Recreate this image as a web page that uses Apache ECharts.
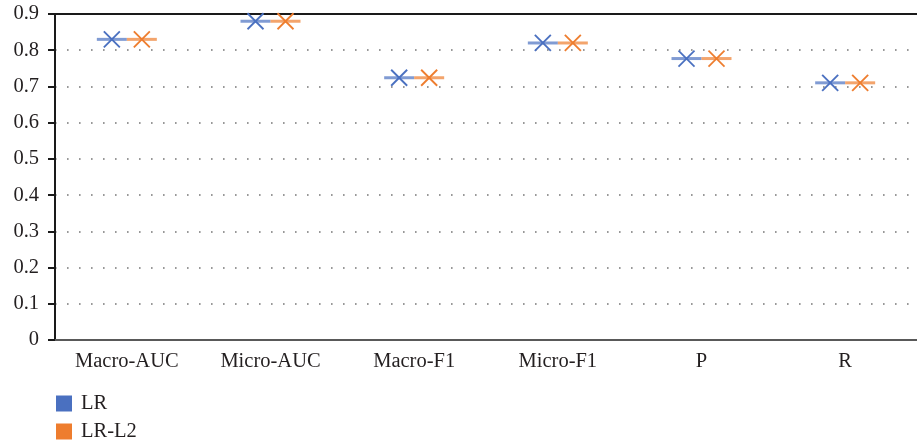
<!DOCTYPE html>
<html>
<head>
<meta charset="utf-8">
<style>
  html, body { margin: 0; padding: 0; background: #fff; }
  #chart { width: 917px; height: 445px; }
</style>
<script src="https://cdn.jsdelivr.net/npm/echarts@6/dist/echarts.min.js"></script>
</head>
<body>
<div id="chart"></div>
<script>
// Metric names along the x axis
const categories = ['Macro-AUC', 'Micro-AUC', 'Macro-F1', 'Micro-F1', 'P', 'R'];
// Scores of the two models
const lrValues = [0.830, 0.880, 0.724, 0.820, 0.777, 0.710];
const lrL2Values = [0.830, 0.880, 0.724, 0.820, 0.777, 0.710];
// Y axis range and step
const yMin = 0;
const yMax = 0.9;
const yStep = 0.1;

const seriesNames = ['LR', 'LR-L2'];
const seriesColors = ['#4A70C0', '#EE7D2E'];
const fontFamily = '"Liberation Serif", "Times New Roman", serif';
const textColor = '#231f20';
const fontSize = 20.5;

// Each point: a short horizontal dash with an X marker on it,
// shifted left (first series) or right (second series) of the category centre.
function makeRenderItem(idx) {
  return function (params, api) {
    const p = api.coord([api.value(0), api.value(1)]);
    const half = 15;
    const off = idx === 0 ? -half : half;
    const cx = p[0] + off;
    const cy = p[1];
    const r = 8;
    const color = seriesColors[idx];
    return {
      type: 'group',
      children: [
        { type: 'line', shape: { x1: cx - half, y1: cy, x2: cx + half, y2: cy },
          style: { stroke: color, lineWidth: 3, opacity: 0.7 } },
        { type: 'line', shape: { x1: cx - r, y1: cy - r, x2: cx + r, y2: cy + r },
          style: { stroke: color, lineWidth: 1.8 } },
        { type: 'line', shape: { x1: cx - r, y1: cy + r, x2: cx + r, y2: cy - r },
          style: { stroke: color, lineWidth: 1.8 } }
      ]
    };
  };
}

function buildData(values) {
  return values.map((v, i) => [i, v]);
}

// One legend block per series, stacked below the plot
function legendFor(name, top) {
  return {
    left: 56,
    top: top,
    padding: 0,
    itemWidth: 16,
    itemHeight: 16,
    icon: 'rect',
    textStyle: { fontFamily: fontFamily, fontSize: fontSize, color: textColor, padding: [0, 0, 0, 4] },
    data: [name]
  };
}

const chart = echarts.init(document.getElementById('chart'), null, { renderer: 'canvas' });
chart.setOption({
  animation: false,
  color: seriesColors,
  textStyle: { fontFamily: fontFamily, color: textColor },
  grid: { left: 55, top: 14, width: 868, bottom: 105, containLabel: false },
  legend: [legendFor(seriesNames[0], 393), legendFor(seriesNames[1], 421)],
  xAxis: [
    {
      type: 'category',
      data: categories,
      position: 'bottom',
      axisLine: { show: true, lineStyle: { color: '#595959', width: 2 } },
      axisTick: { show: false },
      axisLabel: { fontFamily: fontFamily, fontSize: fontSize, color: textColor, margin: 11 },
      splitLine: { show: false }
    },
    {
      type: 'category',
      data: categories,
      position: 'top',
      axisLine: { show: true, lineStyle: { color: '#1a1a1a', width: 2 } },
      axisTick: { show: false },
      axisLabel: { show: false },
      splitLine: { show: false }
    }
  ],
  yAxis: {
    type: 'value',
    min: yMin,
    max: yMax,
    interval: yStep,
    axisLine: { show: true, lineStyle: { color: '#1a1a1a', width: 2 } },
    axisTick: { show: true, length: 7, lineStyle: { color: '#1a1a1a', width: 2 } },
    axisLabel: {
      fontFamily: fontFamily, fontSize: fontSize, color: textColor, margin: 16,
      formatter: v => (v === 0 ? '0' : v.toFixed(1))
    },
    splitLine: { show: true, lineStyle: { color: '#777', width: 1.6, type: [1.6, 10.4] } }
  },
  series: [
    {
      name: seriesNames[0],
      type: 'custom',
      itemStyle: { color: seriesColors[0] },
      renderItem: makeRenderItem(0),
      data: buildData(lrValues)
    },
    {
      name: seriesNames[1],
      type: 'custom',
      itemStyle: { color: seriesColors[1] },
      renderItem: makeRenderItem(1),
      data: buildData(lrL2Values)
    }
  ]
});
</script>
</body>
</html>
